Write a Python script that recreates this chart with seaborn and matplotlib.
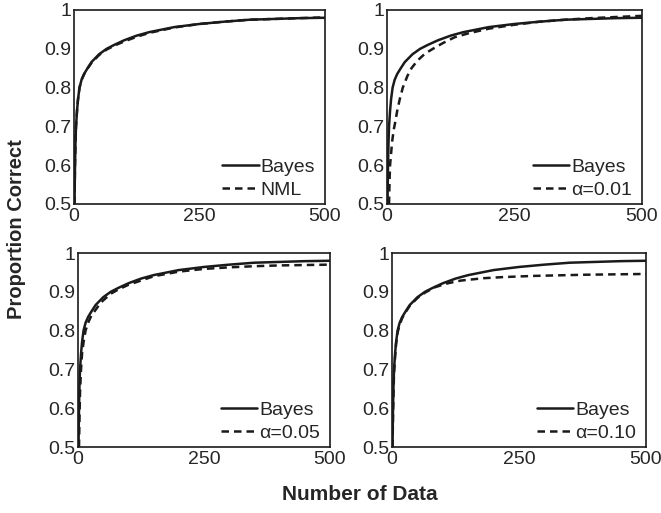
import numpy as np
import pandas as pd
import matplotlib
matplotlib.use('Agg')
import matplotlib.pyplot as plt
import seaborn as sns

# Bayes curve (same in every panel)
bayes_x = [1, 2, 3, 4, 6, 8, 11, 15, 20, 27, 35, 50, 65, 80, 100, 125, 150, 200, 250, 300, 350, 400, 450, 500]
bayes_y = [0.50, 0.60, 0.66, 0.70, 0.74, 0.77, 0.80, 0.82, 0.835, 0.85, 0.866, 0.886, 0.90, 0.91, 0.922, 0.934, 0.943, 0.956, 0.964, 0.970, 0.975, 0.977, 0.979, 0.980]

# comparison curves
nml_x = [1, 2, 3, 4, 6, 8, 11, 15, 20, 27, 35, 50, 65, 80, 100, 125, 150, 200, 250, 300, 350, 400, 450, 500]
nml_y = [0.50, 0.60, 0.66, 0.70, 0.74, 0.77, 0.80, 0.82, 0.834, 0.849, 0.864, 0.884, 0.898, 0.908, 0.919, 0.931, 0.941, 0.955, 0.964, 0.970, 0.975, 0.977, 0.979, 0.981]

a01_x = [4, 5, 6, 8, 10, 13, 16, 20, 25, 31, 40, 48, 60, 75, 90, 110, 133, 160, 200, 250, 300, 350, 400, 450, 500]
a01_y = [0.50, 0.56, 0.60, 0.63, 0.66, 0.69, 0.71, 0.74, 0.77, 0.80, 0.83, 0.85, 0.87, 0.888, 0.90, 0.915, 0.93, 0.94, 0.952, 0.962, 0.970, 0.975, 0.979, 0.982, 0.985]

a05_x = [2, 3, 4, 6, 8, 11, 15, 20, 27, 33, 45, 65, 80, 100, 150, 200, 250, 300, 350, 400, 450, 500]
a05_y = [0.50, 0.58, 0.64, 0.70, 0.74, 0.77, 0.80, 0.82, 0.84, 0.85, 0.872, 0.895, 0.906, 0.918, 0.94, 0.952, 0.959, 0.963, 0.966, 0.968, 0.969, 0.970]

a10_x = [1, 2, 3, 4, 6, 8, 11, 15, 20, 27, 35, 50, 65, 85, 110, 136, 180, 220, 280, 380, 500]
a10_y = [0.50, 0.58, 0.64, 0.69, 0.73, 0.765, 0.795, 0.815, 0.832, 0.848, 0.864, 0.884, 0.898, 0.912, 0.922, 0.929, 0.935, 0.938, 0.941, 0.944, 0.946]

panels = [
    ('NML', nml_x, nml_y),
    ('\u03b1=0.01', a01_x, a01_y),
    ('\u03b1=0.05', a05_x, a05_y),
    ('\u03b1=0.10', a10_x, a10_y),
]

sns.set_style('white')
plt.rcParams['font.family'] = ['Liberation Sans', 'DejaVu Sans']

fig = plt.figure(figsize=(6.61, 5.13), dpi=100)
W, H = 661, 513
boxes = [(74, 10, 325, 204), (387, 10, 642, 204),
         (78, 253, 330, 447), (392, 253, 646, 447)]

for (name, cx, cy), (l, t, r, b) in zip(panels, boxes):
    ax = fig.add_axes([l / W, 1 - b / H, (r - l) / W, (b - t) / H])
    df = pd.concat([
        pd.DataFrame({'x': bayes_x, 'y': bayes_y, 'model': 'Bayes'}),
        pd.DataFrame({'x': cx, 'y': cy, 'model': name}),
    ])
    sns.lineplot(data=df, x='x', y='y', hue='model', style='model',
                 palette=['#1a1a1a', '#1a1a1a'], dashes=[(None, None), (3, 2)],
                 linewidth=1.8, ax=ax)
    ax.set_xlim(0, 500)
    ax.set_ylim(0.5, 1.0)
    ax.set_xticks([0, 250, 500])
    ax.set_xticklabels(['0', '250', '500'])
    ax.set_yticks([0.5, 0.6, 0.7, 0.8, 0.9, 1.0])
    ax.set_yticklabels(['0.5', '0.6', '0.7', '0.8', '0.9', '1'])
    ax.tick_params(labelsize=14, length=0)
    ax.tick_params(axis='x', pad=3)
    ax.tick_params(axis='y', pad=2)
    ax.set_xlabel('')
    ax.set_ylabel('')
    for s in ax.spines.values():
        s.set_color('#1a1a1a')
        s.set_linewidth(1.2)
    ax.legend(loc='lower right', bbox_to_anchor=(1.0, -0.025), frameon=False,
              fontsize=14, handlelength=1.9, handletextpad=0.1,
              labelspacing=0.3, borderaxespad=0.1)

fig.text(17 / W, 1 - 229 / H, 'Proportion Correct', rotation=90, va='center', ha='center',
         fontsize=14.5, fontweight='bold')
fig.text(360 / W, 1 - 495 / H, 'Number of Data', ha='center', va='center',
         fontsize=15, fontweight='bold')

fig.savefig('out.png', dpi=100)
